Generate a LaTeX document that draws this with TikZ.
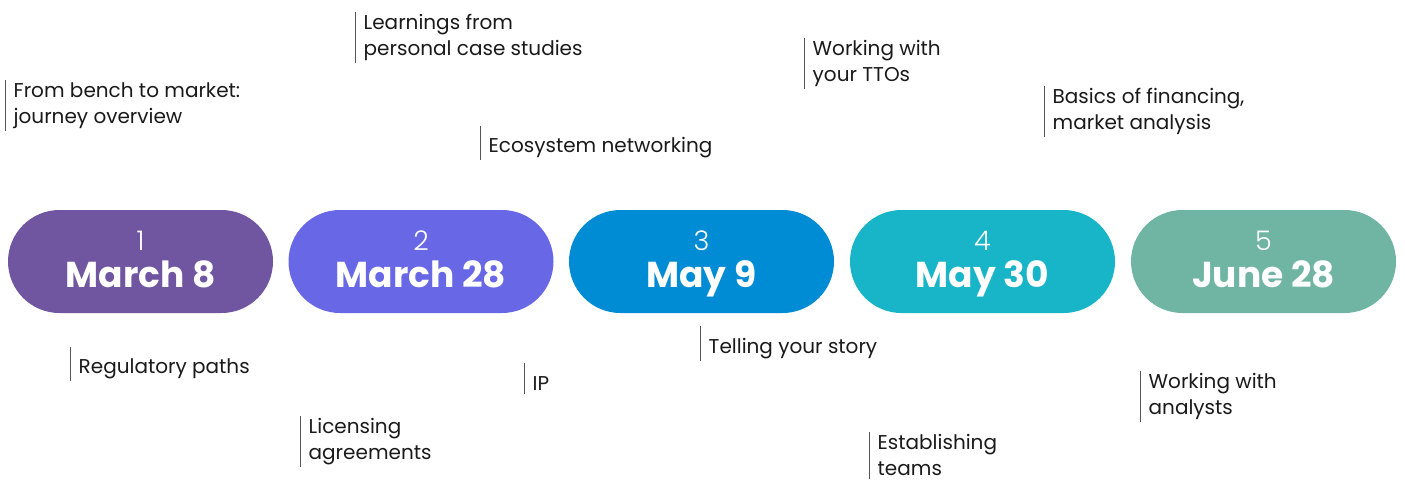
\documentclass[tikz,border=0pt]{standalone}
\usepackage{fontspec}
\setmainfont{Poppins}
\newfontfamily\numfont{Poppins Light}
\definecolor{cA}{HTML}{7056A0}
\definecolor{cB}{HTML}{6868E6}
\definecolor{cC}{HTML}{008CD4}
\definecolor{cD}{HTML}{18B4C8}
\definecolor{cE}{HTML}{70B4A4}
\definecolor{txt}{HTML}{1A1A1A}
\definecolor{barc}{HTML}{555555}
\newcommand\labstrut{\rule[-1.2pt]{0pt}{26pt}}
\tikzset{
  pill/.style={minimum width=265pt, minimum height=103pt, rounded corners=51.5pt, inner sep=0pt},
  numtxt/.style={anchor=base, text=white, font=\numfont\fontsize{27pt}{30pt}\selectfont, inner sep=0pt},
  datetxt/.style={anchor=base, text=white, font=\bfseries\fontsize{36pt}{40pt}\selectfont, inner sep=0pt},
  lab/.style={anchor=west, align=left, text=txt, font=\fontsize{20pt}{26pt}\selectfont, inner xsep=8.5pt, inner ysep=2pt,
    execute at begin node=\labstrut, execute at end node=\labstrut},
  bar/.style={draw=barc, line width=0.9pt},
}
\begin{document}
\begin{tikzpicture}[x=1pt,y=-1pt]
\useasboundingbox (0,0) rectangle (1405,483);
% pills
\node[pill, fill=cA] (p1) at (140.5,261.5) {};
\node[pill, fill=cB] (p2) at (421,261.5) {};
\node[pill, fill=cC] (p3) at (701.5,261.5) {};
\node[pill, fill=cD] (p4) at (982.5,261.5) {};
\node[pill, fill=cE] (p5) at (1263.5,261.5) {};
\foreach \p/\n/\d in {p1/1/March 8, p2/2/March 28, p3/3/May 9, p4/4/May 30, p5/5/June 28}{
  \node[numtxt] (\p n) at ([yshift=11.5pt]\p.center) {\n};
  \node[datetxt] (\p d) at ([yshift=-25.5pt]\p.center) {\d};
}
% labels above
\node[lab] (fb) at (5,105.5) {From bench to market:\\journey overview};
\node[lab] (le) at (355,37.5) {Learnings from\\personal case studies};
\node[lab] (ec) at (480,143) {Ecosystem networking};
\node[lab] (wt) at (804,63.5) {Working with\\your TTOs};
\node[lab] (bf) at (1044,111.5) {Basics of financing,\\market analysis};
% labels below
\node[lab] (rp) at (70,364) {Regulatory paths};
\node[lab] (li) at (300,441.5) {Licensing\\agreements};
\node[lab] (ip) at (524,378.5) {IP};
\node[lab] (ts) at (700,343.5) {Telling your story};
\node[lab] (es) at (869,455.5) {Establishing\\teams};
\node[lab] (wa) at (1140,396.5) {Working with\\analysts};
\foreach \l in {fb,le,ec,wt,bf,rp,li,ip,ts,es,wa}{
  \draw[bar] (\l.north west) -- (\l.south west);
}
\end{tikzpicture}
\end{document}
